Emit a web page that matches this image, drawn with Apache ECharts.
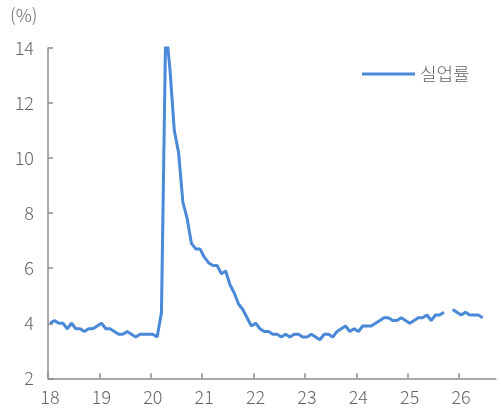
<!DOCTYPE html>
<html>
<head>
<meta charset="utf-8">
<script src="https://cdn.jsdelivr.net/npm/echarts@6/dist/echarts.min.js"></script>
<style>html,body{margin:0;padding:0;background:#fff}#c{width:501px;height:412px}</style>
</head>
<body>
<div id="c"></div>
<script>
// Monthly unemployment rate (%), Jan of each year first
const u2018 = [4.0,4.1,4.0,4.0,3.8,4.0,3.8,3.8,3.7,3.8,3.8,3.9];
const u2019 = [4.0,3.8,3.8,3.7,3.6,3.6,3.7,3.6,3.5,3.6,3.6,3.6];
const u2020 = [3.6,3.5,4.4,14.8,13.2,11.0,10.2,8.4,7.8,6.9,6.7,6.7];
const u2021 = [6.4,6.2,6.1,6.1,5.8,5.9,5.4,5.1,4.7,4.5,4.2,3.9];
const u2022 = [4.0,3.8,3.7,3.7,3.6,3.6,3.5,3.6,3.5,3.6,3.6,3.5];
const u2023 = [3.5,3.6,3.5,3.4,3.6,3.6,3.5,3.7,3.8,3.9,3.7,3.8];
const u2024 = [3.7,3.9,3.9,3.9,4.0,4.1,4.2,4.2,4.1,4.1,4.2,4.1];
const u2025 = [4.0,4.1,4.2,4.2,4.3,4.1,4.3,4.3,4.4,null,4.5,4.4];
const u2026 = [4.3,4.4,4.3,4.3,4.3,4.2];
const yearLabels = ['18','19','20','21','22','23','24','25','26'];
const yTicks = [2,4,6,8,10,12,14];
const seriesName = '실업률';
const unitLabel = '(%)';

const rate = [].concat(u2018,u2019,u2020,u2021,u2022,u2023,u2024,u2025,u2026);
// each month sits at the centre of its month band
const points = rate.map((v, i) => [i + 0.5, v]);

const bw = 4.2817;           // px per month
const axisMonths = 104.6;    // visible span of the time axis in months
const gLeft = 48, gTop = 48, gH = 330.3;
const txt = '#646464', axisCol = '#8c8c8c';
const font = 'Noto Sans CJK KR';
const fw = 300;

const chart = echarts.init(document.getElementById('c'), null, {renderer: 'canvas'});
chart.setOption({
  animation: false,
  backgroundColor: '#fff',
  textStyle: {fontFamily: font},
  title: {text: unitLabel, left: 5, top: 1, padding: 5,
    textStyle: {fontSize: 18, fontWeight: fw, color: txt, fontFamily: font}},
  legend: {data: [seriesName], left: 357, top: 60, icon: 'rect', itemWidth: 53, itemHeight: 3,
    itemGap: 5, textStyle: {fontSize: 18, fontWeight: fw, color: txt, fontFamily: font}},
  grid: [
    {left: gLeft, top: gTop, width: axisMonths * bw, height: gH},
    {left: gLeft, top: gTop, width: 96 * bw, height: gH}
  ],
  xAxis: [
    {gridIndex: 0, type: 'value', min: 0, max: axisMonths,
      axisLine: {show: true, lineStyle: {color: axisCol, width: 1.5}},
      axisTick: {show: false}, axisLabel: {show: false}, splitLine: {show: false}},
    {gridIndex: 1, type: 'value', min: 18, max: 26, interval: 1,
      axisLine: {show: false},
      axisTick: {show: true, inside: true, length: 5, lineStyle: {color: axisCol, width: 1.5}},
      axisLabel: {show: true, margin: 10, fontSize: 18, fontWeight: fw, color: txt, fontFamily: font,
        padding: [0, 0, 0, 4], formatter: v => yearLabels[Math.round(v) - 18]},
      splitLine: {show: false}}
  ],
  yAxis: [
    {gridIndex: 0, type: 'value', min: yTicks[0], max: yTicks[yTicks.length - 1], interval: 2,
      axisLine: {show: true, lineStyle: {color: axisCol, width: 1.5}},
      axisTick: {show: true, inside: true, length: 5, lineStyle: {color: axisCol, width: 1.5}},
      axisLabel: {margin: 14, fontSize: 18, fontWeight: fw, color: txt, fontFamily: font},
      splitLine: {show: false}},
    {gridIndex: 1, type: 'value', min: 2, max: 14, show: false}
  ],
  series: [{
    name: seriesName, type: 'line', xAxisIndex: 0, yAxisIndex: 0,
    data: points, showSymbol: false, symbol: 'none', clip: true, connectNulls: false,
    lineStyle: {color: '#4a88d8', width: 3}, itemStyle: {color: '#4a88d8'}
  }]
});
</script>
</body>
</html>
